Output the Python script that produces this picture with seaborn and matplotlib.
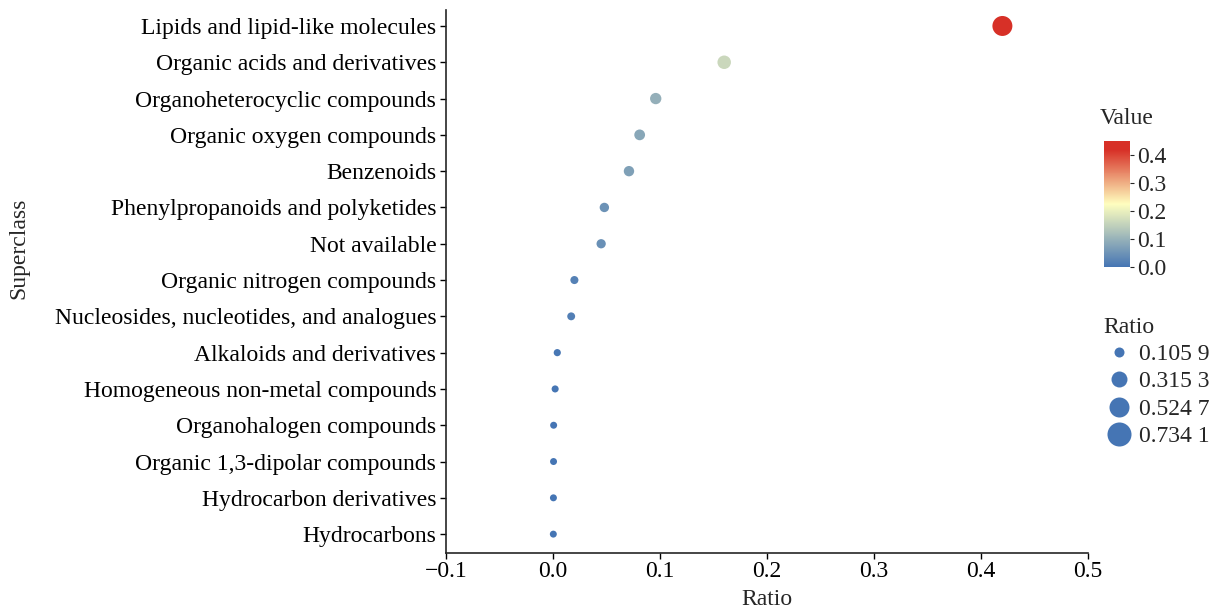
import seaborn as sns
import numpy as np
import matplotlib.pyplot as plt
import pandas as pd
from matplotlib.colors import LinearSegmentedColormap, Normalize
from matplotlib.cm import ScalarMappable
from matplotlib.lines import Line2D

superclass = ["Lipids and lipid-like molecules",
              "Organic acids and derivatives",
              "Organoheterocyclic compounds",
              "Organic oxygen compounds",
              "Benzenoids",
              "Phenylpropanoids and polyketides",
              "Not available",
              "Organic nitrogen compounds",
              "Nucleosides, nucleotides, and analogues",
              "Alkaloids and derivatives",
              "Homogeneous non-metal compounds",
              "Organohalogen compounds",
              "Organic 1,3-dipolar compounds",
              "Hydrocarbon derivatives",
              "Hydrocarbons"]
ratio = [0.420, 0.160, 0.096, 0.081, 0.071, 0.048, 0.045, 0.020, 0.017,
         0.004, 0.002, 0.0006, 0.0005, 0.0004, 0.0003]
value = ratio
size_breaks = [0.1059, 0.3153, 0.5247, 0.7341]
size_break_labels = ["0.105 9", "0.315 3", "0.524 7", "0.734 1"]
cbar_ticks = [0.0, 0.1, 0.2, 0.3, 0.4]
x_ticks = [-0.1, 0.0, 0.1, 0.2, 0.3, 0.4, 0.5]

sns.set_theme(style='ticks')
plt.rcParams['font.family'] = ['Liberation Serif', 'DejaVu Serif']
plt.rcParams['axes.linewidth'] = 1.2
fs = 17

df = pd.DataFrame({'Superclass': superclass, 'Ratio': ratio, 'Value': value})

# blue -> pale yellow -> red
cmap = LinearSegmentedColormap.from_list(
    'bwr_soft', [(0.0, "#4575b4"), (0.5, "#ffffbf"), (0.93, "#d73027"), (1.0, "#d73027")])
vmin, vmax = 0.0, 0.45

fig = plt.figure(figsize=(12.16, 6.11), dpi=100)
ax = fig.add_axes([446/1216, 1-553/611, 642/1216, 543/611])

sns.scatterplot(data=df, x='Ratio', y='Superclass', hue='Value', size='Ratio',
                palette=cmap, hue_norm=(vmin, vmax), sizes=(25, 207), size_norm=(0, 0.42),
                linewidth=0, legend=False, ax=ax)

ax.set_ylim(len(superclass) - 1 + 0.52, -0.44)
ax.set_xlim(-0.1, 0.5)
ax.set_xticks(x_ticks)
ax.set_xticklabels([f"{t:.1f}".replace('-', '\u2212') for t in x_ticks])
ax.spines['top'].set_visible(False)
ax.spines['right'].set_visible(False)
ax.tick_params(axis='both', labelsize=fs, length=4, width=1, color='black', labelcolor='black')
ax.tick_params(axis='x', pad=2)
ax.tick_params(axis='y', pad=3)
ax.set_xlabel('Ratio', fontsize=fs, labelpad=5)
ax.set_ylabel('Superclass', fontsize=fs)
ax.yaxis.set_label_coords((19 - 446) / 642, (553 - 248) / 543)
ax.yaxis.label.set_va('center')

# colorbar
cax = fig.add_axes([1104/1216, 1-267/611, 26/1216, 126/611])
sm = ScalarMappable(norm=Normalize(vmin, vmax), cmap=cmap)
cb = fig.colorbar(sm, cax=cax, ticks=cbar_ticks)
cb.outline.set_visible(False)
cb.ax.tick_params(labelsize=fs, length=3, width=0.8, pad=2)
cb.ax.set_yticklabels([f"{t:.1f}" for t in cbar_ticks])
fig.text(1100/1216, 1-119/611, 'Value', fontsize=fs, va='center', ha='left')

# size legend
handles = []
for d in [7.2, 11.5, 14.4, 17.3]:
    handles.append(Line2D([], [], linestyle='none', marker='o', markersize=d,
                          markerfacecolor='#4575b4', markeredgewidth=0))
leg = fig.legend(handles, size_break_labels, title='Ratio', loc='upper left',
                 bbox_to_anchor=(1087/1216, 1-300/611), frameon=False,
                 fontsize=fs, title_fontsize=fs, handletextpad=0.2,
                 labelspacing=0.25, handlelength=1.3, borderpad=0.2)
leg._legend_box.align = 'left'

fig.savefig('out.png', dpi=100)
